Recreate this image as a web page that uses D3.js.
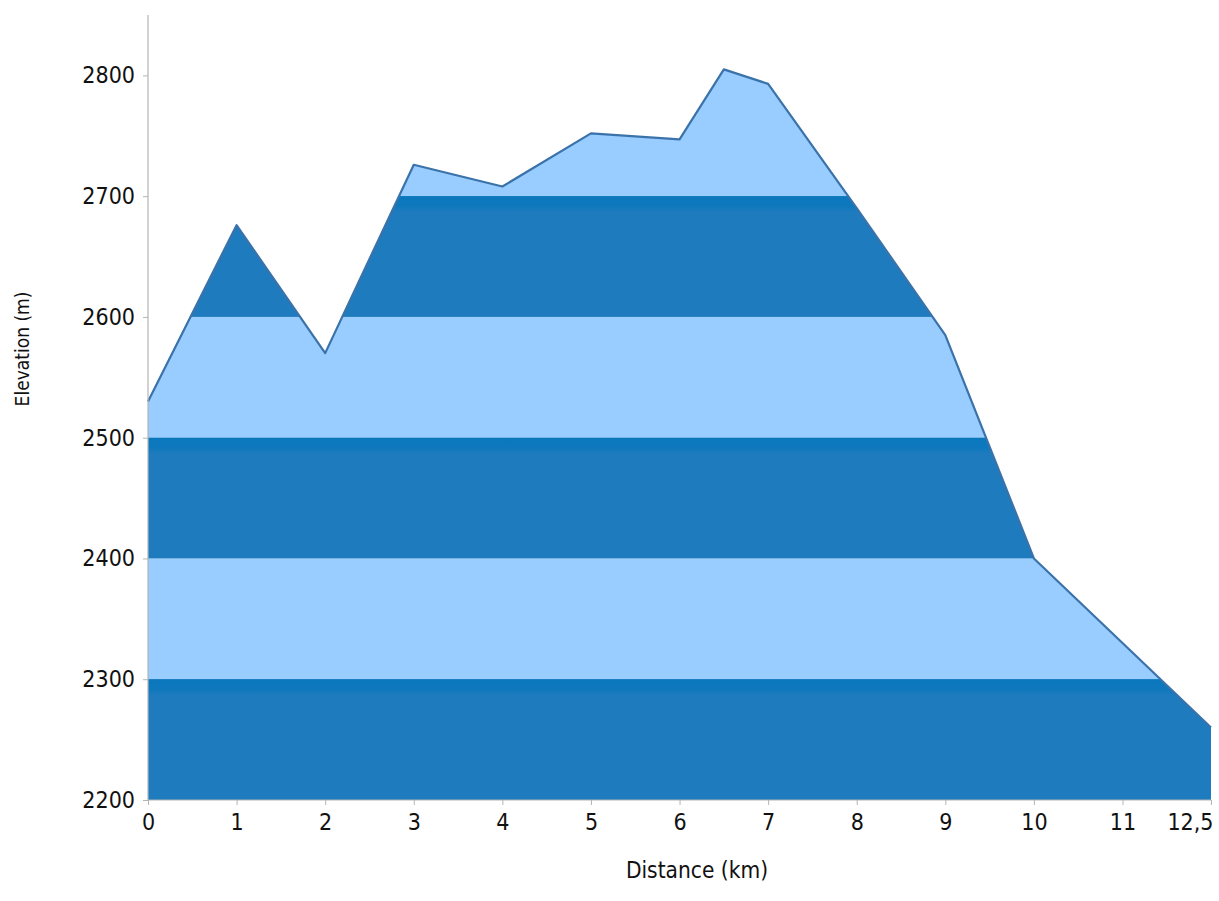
<!DOCTYPE html>
<html>
<head>
<meta charset="utf-8">
<script src="https://cdn.jsdelivr.net/npm/d3@7"></script>
<style>
  html, body { margin: 0; padding: 0; background: #ffffff; }
  svg { display: block; }
  text { font-family: "DejaVu Sans Condensed", "DejaVu Sans", sans-serif; fill: #111; }
</style>
</head>
<body>
<svg id="chart" width="1219" height="901"></svg>
<script>
// ---- data ----
const distanceKm = [0, 1, 2, 3, 4, 5, 6, 6.5, 7, 8, 9, 10, 11, 12.5];
const elevationM = [2530, 2676, 2570, 2726, 2708, 2752, 2747, 2805, 2793, 2690, 2585, 2400, 2330, 2260];
const xTickValues = [0, 1, 2, 3, 4, 5, 6, 7, 8, 9, 10, 11, 12.5];
const yTickValues = [2200, 2300, 2400, 2500, 2600, 2700, 2800];
const bandBreaks = [2200, 2300, 2400, 2500, 2600, 2700, 2850];
const bandColors = ["#1e7bbe", "#99ccff", "#1e7bbe", "#99ccff", "#1e7bbe", "#99ccff"];
const xTitle = "Distance (km)";
const yTitle = "Elevation (m)";

(function () {
const svg = d3.select("#chart");
const plotLeft = 148, plotBottom = 800, plotTop = 15;

const x = d3.scaleLinear().domain([0, 11, 12.5]).range([plotLeft, 1122.5, 1211]);
const y = d3.scaleLinear().domain([2200, 2850]).range([plotBottom, plotTop]);

const pts = distanceKm.map((d, i) => ({ d, e: elevationM[i] }));

const area = d3.area().x(p => x(p.d)).y0(y(2200)).y1(p => y(p.e));
const line = d3.line().x(p => x(p.d)).y(p => y(p.e));

const defs = svg.append("defs");
defs.append("clipPath").attr("id", "areaClip")
  .append("path").attr("d", area(pts));
const grad = defs.append("linearGradient").attr("id", "stripGrad")
  .attr("x1", 0).attr("y1", 0).attr("x2", 0).attr("y2", 1);
grad.append("stop").attr("offset", 0).attr("stop-color", "#0a77bd");
grad.append("stop").attr("offset", 0.6).attr("stop-color", "#0e78bd");
grad.append("stop").attr("offset", 1).attr("stop-color", "#1e7bbe");

const bands = d3.pairs(bandBreaks).map((b, i) => ({ lo: b[0], hi: b[1], color: bandColors[i], dark: i % 2 === 0 }));

const g = svg.append("g").attr("clip-path", "url(#areaClip)");
g.selectAll("rect.band").data(bands).join("rect")
  .attr("class", "band")
  .attr("x", plotLeft).attr("width", x(12.5) - plotLeft)
  .attr("y", b => y(b.hi)).attr("height", b => y(b.lo) - y(b.hi))
  .attr("fill", b => b.color);
g.selectAll("rect.strip").data(bands.filter(b => b.dark)).join("rect")
  .attr("class", "strip")
  .attr("x", plotLeft).attr("width", x(12.5) - plotLeft)
  .attr("y", b => y(b.hi)).attr("height", 16)
  .attr("fill", "url(#stripGrad)");

svg.append("path").attr("d", line(pts))
  .attr("fill", "none").attr("stroke", "#3a72aa").attr("stroke-width", 2.2)
  .attr("stroke-linejoin", "round");

// axes
const fmt = v => String(v).replace(".", ",");
const xAxis = svg.append("g").attr("transform", `translate(0,${plotBottom})`)
  .call(d3.axisBottom(x).tickValues(xTickValues).tickFormat(fmt).tickSize(5).tickPadding(9));
const yAxis = svg.append("g").attr("transform", `translate(${plotLeft},0)`)
  .call(d3.axisLeft(y).tickValues(yTickValues).tickFormat(d3.format("d")).tickSize(5).tickPadding(8));

[xAxis, yAxis].forEach(a => {
  a.select(".domain").attr("stroke", "#b4b4b4").attr("stroke-width", 1.2);
  a.selectAll(".tick line").attr("stroke", "#b4b4b4");
  a.selectAll(".tick text").attr("font-size", 23).attr("fill", "#111")
    .attr("font-family", "DejaVu Sans Condensed, DejaVu Sans, sans-serif");
});
yAxis.select(".domain").attr("d", `M-0,${plotBottom}V${plotTop}`);
xAxis.select(".domain").attr("d", `M${plotLeft},0H${x(12.5)}`);
xAxis.selectAll(".tick text").filter(d => d === 12.5).attr("text-anchor", "end").attr("dx", 2);

svg.append("text").attr("x", 697).attr("y", 878).attr("text-anchor", "middle")
  .attr("font-size", 22.5).text(xTitle);
svg.append("text").attr("transform", "translate(29,349) rotate(-90)").attr("text-anchor", "middle")
  .attr("font-size", 19).text(yTitle);
})();
</script>
</body>
</html>
